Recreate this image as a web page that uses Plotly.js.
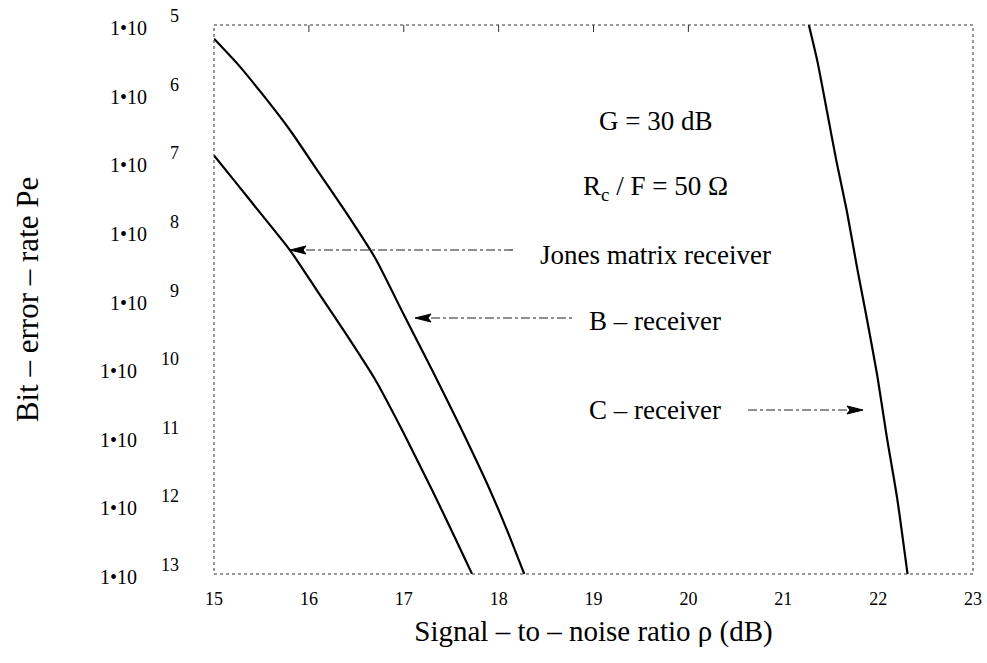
<!DOCTYPE html>
<html>
<head>
<meta charset="utf-8">
<script src="https://cdn.plot.ly/plotly-3.0.1.min.js"></script>
<style>html,body{margin:0;padding:0;background:#fff;}#chart{width:987px;height:663px;}</style>
</head>
<body>
<div id="chart"></div>
<script>
// ---- data ----
const jonesX = [15.0, 15.25, 15.5, 15.8, 16.1, 16.4, 16.7, 17.0, 17.3, 17.55, 17.72];
const jonesLog = [-6.9, -7.33, -7.76, -8.28, -8.9, -9.52, -10.17, -10.95, -11.78, -12.5, -13.0];
const bX = [15.0, 15.25, 15.5, 15.8, 16.1, 16.4, 16.7, 17.0, 17.3, 17.6, 17.9, 18.1, 18.27];
const bLog = [-5.2, -5.57, -5.99, -6.53, -7.14, -7.75, -8.4, -9.22, -10.03, -10.87, -11.75, -12.4, -13.0];
const cX = [21.27, 21.36, 21.46, 21.56, 21.67, 21.78, 21.88, 21.99, 22.09, 22.2, 22.31];
const cLog = [-5.0, -5.53, -6.25, -6.98, -7.71, -8.55, -9.27, -10.1, -10.99, -11.89, -13.0];

const xTickVals = [15, 16, 17, 18, 19, 20, 21, 22, 23];
const yTickVals = [1e-5, 1e-6, 1e-7, 1e-8, 1e-9, 1e-10, 1e-11, 1e-12, 1e-13];
const yTickBase = '1•10';
const yTickExp = ['5', '6', '7', '8', '9', '10', '11', '12', '13'];

const labelG = 'G = 30 dB';
const labelR = 'R<sub>c</sub> / F = 50 Ω';
const labelJones = 'Jones matrix receiver';
const labelB = 'B – receiver';
const labelC = 'C – receiver';
const xTitle = 'Signal – to – noise ratio ρ (dB)';
const yTitle = 'Bit – error – rate Pe';

// ---- layout helpers (pixel -> paper) ----
const L = 214, R = 973, T = 25, B = 574;
const px = p => (p - L) / (R - L);
const py = p => (B - p) / (B - T);
const pow10 = a => a.map(v => Math.pow(10, v));
const serif = 'Liberation Serif, Times New Roman, serif';

const line = {color: '#000', width: 2.2, shape: 'spline', smoothing: 0.6};
const traces = [
  {x: jonesX, y: pow10(jonesLog), mode: 'lines', line: line, hoverinfo: 'skip'},
  {x: bX, y: pow10(bLog), mode: 'lines', line: line, hoverinfo: 'skip'},
  {x: cX, y: pow10(cLog), mode: 'lines', line: line, hoverinfo: 'skip'}
];

const annotations = [];
// y tick labels "1•10" with raised exponent
yTickVals.forEach((v, i) => {
  const e = yTickExp[i];
  const expRight = 181;
  const baseRight = expRight - e.length * 10 - 22;
  annotations.push({xref: 'paper', yref: 'y', x: px(baseRight), y: Math.log10(v), xanchor: 'right', yanchor: 'middle',
    text: yTickBase, showarrow: false, yshift: -3, font: {family: serif, size: 20, color: '#000'}});
  annotations.push({xref: 'paper', yref: 'y', x: px(expRight), y: Math.log10(v), xanchor: 'right', yanchor: 'middle',
    text: e, showarrow: false, yshift: 9, font: {family: serif, size: 18, color: '#000'}});
});
const textFont = {family: serif, size: 27, color: '#000'};
[[labelG, 121], [labelR, 188], [labelJones, 255], [labelB, 321], [labelC, 410]].forEach(([t, yy]) => {
  annotations.push({xref: 'paper', yref: 'paper', x: px(655), y: py(yy), xanchor: 'center', yanchor: 'middle',
    text: t, showarrow: false, font: textFont});
});

// arrow lines and arrowheads (tip x, tip y, direction: +1 points left, -1 points right, tail x)
const arrows = [[290, 250, 1, 513], [415, 318, 1, 572], [863, 410, -1, 745]];
const shapes = [
  {type: 'rect', xref: 'paper', yref: 'paper', x0: 0, x1: 1, y0: 0, y1: 1, line: {color: '#333', width: 1, dash: 'dot'}}
];
arrows.forEach(([tx, ty, dir, tail]) => {
  const hx = tx + dir * 16;
  shapes.push({type: 'line', xref: 'paper', yref: 'paper', x0: px(hx), x1: px(tail), y0: py(ty), y1: py(ty),
    line: {color: '#222', width: 1.2, dash: 'dashdot'}});
  shapes.push({type: 'path', xref: 'paper', yref: 'paper',
    path: `M ${px(tx)} ${py(ty)} L ${px(hx)} ${py(ty - 4)} L ${px(hx - dir * 3)} ${py(ty)} L ${px(hx)} ${py(ty + 4)} Z`,
    fillcolor: '#000', line: {color: '#000', width: 1}});
});
// small inside tick marks along the top edge of the frame
xTickVals.slice(1, 6).forEach(v => {
  shapes.push({type: 'line', xref: 'x', yref: 'paper', x0: v, x1: v, y0: 1, y1: py(T + 7), line: {color: '#333', width: 1}});
});

const layout = {
  width: 987, height: 663,
  margin: {l: L, r: 987 - R, t: T, b: 663 - B, pad: 0},
  paper_bgcolor: '#fff', plot_bgcolor: '#fff',
  showlegend: false,
  xaxis: {
    range: [15, 23], tickvals: xTickVals, showgrid: false, zeroline: false,
    showline: false, ticks: '',
    ticklabelstandoff: 12,
    tickfont: {family: serif, size: 18, color: '#000'},
    title: {text: xTitle, font: {family: serif, size: 29, color: '#000'}, standoff: 12},
    automargin: false
  },
  yaxis: {
    type: 'log', range: [-13, -5], tickvals: yTickVals, showticklabels: false,
    showgrid: false, zeroline: false, showline: false, ticks: '',
    title: {text: yTitle, font: {family: serif, size: 31, color: '#000'}, standoff: 165},
    automargin: false
  },
  annotations: annotations,
  shapes: shapes
};

Plotly.newPlot('chart', traces, layout, {displayModeBar: false, staticPlot: true});
</script>
</body>
</html>
